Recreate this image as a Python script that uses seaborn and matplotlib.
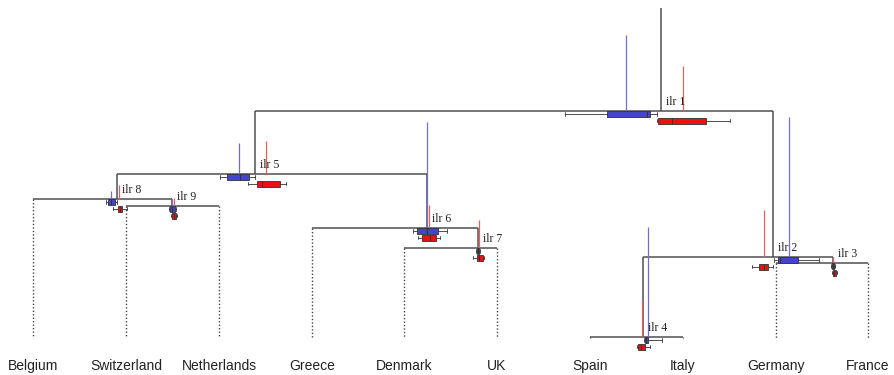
import matplotlib
matplotlib.use("Agg")
import matplotlib.pyplot as plt
import seaborn as sns

# ---------------- data ----------------
leaves = ["Belgium", "Switzerland", "Netherlands", "Greece", "Denmark",
          "UK", "Spain", "Italy", "Germany", "France"]
leaf_x = [33, 126, 219, 312, 404, 497, 590, 683, 776, 868]
leaf_parent = ["ilr 8", "ilr 9", "ilr 9", "ilr 6", "ilr 7",
               "ilr 7", "ilr 4", "ilr 4", "ilr 3", "ilr 3"]

nodes = ["ilr 1", "ilr 2", "ilr 3", "ilr 4", "ilr 5",
         "ilr 6", "ilr 7", "ilr 8", "ilr 9"]
node_parent = [None, "ilr 1", "ilr 2", "ilr 2", "ilr 1",
               "ilr 5", "ilr 6", "ilr 5", "ilr 8"]
node_level = [111, 257, 263, 337, 174, 228, 248, 199, 206]
node_center = [661, 773, 833, 643, 255, 427, 478, 117, 172]
root_top = 8
leaf_bottom = 338

# group means (vertical coloured lines): position and top
blue_line_x = [626, 789, 833, 648, 239, 427, 478, 111, 172]
blue_line_top = [35, 117, 260, 227, 143, 122, 245, 191, 200]
red_line_x = [683, 764, 833, 642, 266, 429, 479, 119, 174]
red_line_top = [66, 210, 257, 300, 141, 205, 220, 185, 198]

# boxplot stats: whislo, q1, median, q3, whishi
blue_box = [[565, 607, 647, 650, 657],
            [774, 778, 780, 798, 819],
            [831, 832, 833, 834, 835],
            [644, 645, 646, 648, 662],
            [220, 227, 240, 249, 255],
            [413, 417, 427, 438, 447],
            [476, 477, 478, 479, 480],
            [106, 108, 111, 115, 117],
            [169, 170, 172, 175, 176]]
red_box = [[657, 658, 672, 706, 730],
           [752, 759, 764, 768, 773],
           [832, 833, 834, 836, 837],
           [637, 638, 641, 645, 650],
           [248, 257, 262, 280, 286],
           [418, 422, 430, 436, 440],
           [473, 477, 479, 483, 484],
           [113, 118, 120, 122, 127],
           [171, 172, 174, 176, 177]]

# ---------------- styling ----------------
sns.set_theme(style="white")
plt.rcParams['font.family'] = ['Liberation Sans', 'DejaVu Sans']

TREE = "#505050"
BLUE_FILL = "#4444cc"
RED_FILL = "#ee1010"
BLUE_LINE = "#7070c8"
RED_LINE = "#e06060"
EDGE = "#333333"

fig = plt.figure(figsize=(8.94, 3.75), dpi=100)
ax = fig.add_axes([0, 0, 1, 1])
ax.set_xlim(0, 894)
ax.set_ylim(375, 0)
ax.axis("off")

center = dict(zip(nodes, node_center))
level = dict(zip(nodes, node_level))

# children x positions for each node
children = {n: [] for n in nodes}
for n, p in zip(nodes, node_parent):
    if p is not None:
        children[p].append(center[n])
for x, p in zip(leaf_x, leaf_parent):
    children[p].append(x)

# tree: horizontal bars and connections to parents
for n, p in zip(nodes, node_parent):
    xs = children[n]
    ax.hlines(level[n], min(xs), max(xs), color=TREE, lw=1.1, zorder=2)
    top = root_top if p is None else level[p]
    ax.vlines(center[n], top, level[n], color=TREE, lw=1.1, zorder=2)

# leaves: dotted drops and labels
for name, x, p in zip(leaves, leaf_x, leaf_parent):
    ax.vlines(x, level[p], leaf_bottom, color="#444444", lw=1.0,
              linestyles=(0, (1, 1.5)), zorder=1)
    ax.text(x, 366, name, ha="center", va="center", fontsize=10,
            color="#222222")

# group mean lines
for i, n in enumerate(nodes):
    ax.vlines(blue_line_x[i], blue_line_top[i], level[n], color=BLUE_LINE,
              lw=0.9, zorder=3)
    ax.vlines(red_line_x[i], red_line_top[i], level[n], color=RED_LINE,
              lw=0.9, zorder=3)

# boxplots
def stats(b):
    return dict(whislo=b[0], q1=b[1], med=b[2], q3=b[3], whishi=b[4],
                fliers=[])

for i, n in enumerate(nodes):
    for box, fill, off in ((blue_box[i], BLUE_FILL, 3), (red_box[i], RED_FILL, 9.5)):
        ax.bxp([stats(box)], positions=[level[n] + off], widths=6,
               orientation="horizontal", patch_artist=True, showfliers=False,
               capwidths=[3.5],
               boxprops=dict(facecolor=fill, edgecolor=EDGE, lw=0.6),
               medianprops=dict(color=EDGE, lw=0.7),
               whiskerprops=dict(color=EDGE, lw=0.6),
               capprops=dict(color=EDGE, lw=0.6),
               manage_ticks=False, zorder=4)
    ax.text(center[n] + 5, level[n] - 3, n, ha="left", va="bottom",
            fontsize=8.5, family=['Liberation Serif', 'DejaVu Serif'],
            color="#222222", zorder=5)

ax.set_xlim(0, 894)
ax.set_ylim(375, 0)
fig.savefig("out.png", dpi=100)
